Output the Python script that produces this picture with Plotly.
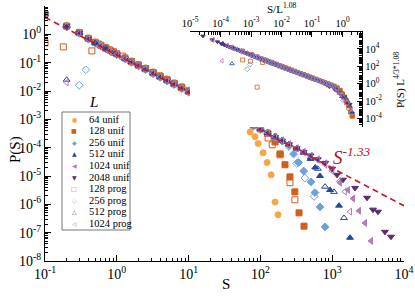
import numpy as np
import plotly.graph_objects as go

# ---------------- data ----------------
S64u = [0.1,0.2,0.3,0.4,0.5,0.6,0.7,0.8,0.9,1.0,1.3,1.6,2.0,2.5,3.2,4.0,5.0,6.3,8.0,10,13,16,20,25,32,40,50,60,72,84,93,109,124,141,160,176]
P64u = [5.6,2.1,1.2,0.76,0.55,0.43,0.35,0.29,0.25,0.215,0.155,0.117,0.087,0.066,0.048,0.036,0.027,0.020,0.0146,0.0109,0.0079,0.0060,0.0045,0.0034,0.0025,0.0018,0.00125,7.0e-4,3.6e-4,2.45e-4,1.4e-4,6.6e-5,3.0e-5,1.1e-5,1.2e-6,4.3e-7]

S128u = [0.1,0.2,0.3,0.4,0.5,0.6,0.7,0.8,0.9,1.0,1.3,1.6,2.0,2.5,3.2,4.0,5.0,6.3,8.0,10,13,16,20,25,32,40,50,63,80,100,126,160,188,220,258,302,345,405]
P128u = [5.3,1.95,1.15,0.72,0.52,0.41,0.33,0.28,0.235,0.205,0.146,0.110,0.083,0.062,0.045,0.0335,0.025,0.0185,0.0135,0.0100,0.0072,0.0054,0.0040,0.0030,0.0022,0.0016,0.0012,8.9e-4,6.4e-4,4.6e-4,3.2e-4,1.6e-4,6.0e-5,2.5e-5,9.3e-6,2.75e-6,5.0e-7,1.7e-7]

S256u = [0.1,0.2,0.3,0.4,0.5,0.6,0.7,0.8,0.9,1.0,1.3,1.6,2.0,2.5,3.2,4.0,5.0,6.3,8.0,10,13,16,20,25,32,40,50,63,80,100,126,160,200,250,290,340,400,507,575,676,795]
P256u = [5.0,1.85,1.08,0.68,0.50,0.39,0.31,0.26,0.225,0.195,0.138,0.104,0.078,0.058,0.042,0.031,0.023,0.0172,0.0125,0.0093,0.0066,0.0050,0.0037,0.0028,0.0020,0.0015,0.00112,8.2e-4,6.0e-4,4.5e-4,3.3e-4,2.4e-4,1.75e-4,1.2e-4,6.0e-5,3.0e-5,1.5e-5,6.2e-6,2.6e-6,8.1e-7,1.6e-7]

S512u = [0.1,0.2,0.3,0.4,0.5,0.6,0.7,0.8,0.9,1.0,1.3,1.6,2.0,2.5,3.2,4.0,5.0,6.3,8.0,10,13,16,20,25,32,40,50,63,80,100,126,160,200,250,320,400,500,580,676,933,1245,1770]
P512u = [5.4,1.9,1.13,0.71,0.51,0.40,0.32,0.27,0.232,0.20,0.141,0.107,0.080,0.060,0.043,0.032,0.0238,0.0176,0.0128,0.0095,0.0068,0.0051,0.0038,0.00285,0.0021,0.00153,0.00114,8.4e-4,6.1e-4,4.6e-4,3.4e-4,2.45e-4,1.8e-4,1.33e-4,9.6e-5,7.0e-5,4.0e-5,2.0e-5,1.0e-5,3.2e-6,9.0e-7,6.6e-8]

S1024u = [0.1,0.2,0.3,0.4,0.5,0.6,0.7,0.8,0.9,1.0,1.3,1.6,2.0,2.5,3.2,4.0,5.0,6.3,8.0,10,13,16,20,25,32,40,50,63,80,100,126,160,200,250,320,400,500,630,800,1000,1280,1660,1950,2360,2860,3470]
P1024u = [5.1,1.88,1.1,0.70,0.50,0.39,0.32,0.265,0.228,0.198,0.140,0.106,0.079,0.059,0.0425,0.0315,0.0235,0.0174,0.0127,0.0094,0.0067,0.0050,0.0038,0.0028,0.00205,0.00151,0.00113,8.3e-4,6.0e-4,4.5e-4,3.35e-4,2.4e-4,1.8e-4,1.33e-4,9.5e-5,7.0e-5,5.2e-5,3.9e-5,2.8e-5,1.7e-5,5.8e-6,3.2e-6,1.6e-6,5.9e-7,2.2e-7,5.1e-8]

S2048u = [0.1,0.2,0.3,0.4,0.5,0.6,0.7,0.8,0.9,1.0,1.3,1.6,2.0,2.5,3.2,4.0,5.0,6.3,8.0,10,13,16,20,25,32,40,50,63,80,100,126,160,200,250,320,400,500,630,800,1000,1167,1413,2080,3055,3700,4345,5430,6590]
P2048u = [5.2,1.92,1.12,0.69,0.49,0.38,0.31,0.262,0.226,0.196,0.139,0.105,0.079,0.059,0.042,0.031,0.0233,0.0173,0.0126,0.0093,0.0066,0.0050,0.0037,0.0028,0.0020,0.0015,0.00111,8.2e-4,5.95e-4,4.45e-4,3.3e-4,2.4e-4,1.78e-4,1.32e-4,9.5e-5,7.1e-5,5.3e-5,3.9e-5,2.9e-5,1.8e-5,1.1e-5,7.4e-6,3.8e-6,1.7e-6,6.5e-7,5.5e-7,1.07e-7,7.2e-8]

S128p = [0.1,0.18,0.3,0.45,0.55,0.7,0.9,1.2,1.6,2.0,2.5,3.2,4.0,5.0,6.3,8.0,10,13,16,20,25,32,40,50,63,80,100,128,146,188,258,302]
P128p = [0.5,0.36,3.7e-4,0.26,0.46,0.33,0.24,0.17,0.108,0.082,0.061,0.044,0.033,0.0245,0.018,0.0131,0.0098,0.0070,0.0052,0.0039,0.0029,0.0021,0.00157,0.00118,8.7e-4,6.3e-4,4.7e-4,2.2e-4,1.26e-4,5.6e-5,5.8e-6,1.45e-6]

S256p = [0.1,0.2,0.3,0.37,0.5,0.6,0.8,1.0,1.3,1.6,2.0,2.5,3.2,4.0,5.0,6.3,8.0,10,13,16,20,25,32,40,50,63,80,100,126,160,200,250,320,417,560]
P256p = [4.8,1.8,0.016,0.056,0.49,0.38,0.26,0.19,0.136,0.102,0.077,0.057,0.041,0.030,0.0225,0.0168,0.0122,0.0091,0.0065,0.0049,0.0036,0.0027,0.00196,0.00145,0.00108,8.0e-4,5.8e-4,4.4e-4,3.2e-4,2.3e-4,1.7e-4,1.1e-4,2.8e-5,8.5e-6,1.9e-6]

S512p = [0.1,0.2,0.3,0.5,0.7,1.0,1.3,1.6,2.0,2.5,3.2,4.0,5.0,6.3,8.0,10,13,16,20,25,32,40,50,63,80,100,126,160,200,250,320,400,500,630,795,1060,1460]
P512p = [5.1,0.025,1.1,0.50,0.32,0.20,0.14,0.106,0.079,0.059,0.042,0.031,0.0233,0.0173,0.0126,0.0094,0.0067,0.0050,0.0037,0.00278,0.00203,0.0015,0.00112,8.3e-4,6.0e-4,4.5e-4,3.3e-4,2.4e-4,1.78e-4,1.3e-4,9.3e-5,6.6e-5,4.5e-5,1.8e-5,4.2e-6,2.75e-6,3.3e-7]

S1024p = [0.1,0.2,0.3,0.4,0.6,0.8,1.0,1.3,1.6,2.0,2.5,3.2,4.0,5.0,6.3,8.0,10,13,16,20,25,32,40,50,63,80,100,126,160,200,250,320,400,500,630,800,1000,1260,1500,1770]
P1024p = [5.0,0.02,1.1,0.69,0.40,0.27,0.198,0.140,0.105,0.079,0.059,0.0425,0.0315,0.0235,0.0174,0.0127,0.0094,0.0067,0.0050,0.0038,0.0028,0.00205,0.00151,0.00113,8.3e-4,6.0e-4,4.5e-4,3.35e-4,2.4e-4,1.8e-4,1.33e-4,9.5e-5,7.0e-5,5.2e-5,3.7e-5,2.5e-5,1.5e-5,6.5e-6,2.8e-6,5.5e-7]

# fitted power law shown as the dashed line
fit_exponent = 1.33
fit_amplitude = 10 ** -0.73
fit_S = [0.1, 1e4]

# tick labels
main_x_ticks = [0.1, 1, 10, 100, 1000, 10000]
main_x_text = ["10<sup>-1</sup>", "10<sup>0</sup>", "10<sup>1</sup>", "10<sup>2</sup>", "10<sup>3</sup>", "10<sup>4</sup>"]
main_y_ticks = [1e-8, 1e-7, 1e-6, 1e-5, 1e-4, 1e-3, 1e-2, 1e-1, 1, 10]
main_y_text = ["10<sup>-8</sup>", "10<sup>-7</sup>", "10<sup>-6</sup>", "10<sup>-5</sup>", "10<sup>-4</sup>",
               "10<sup>-3</sup>", "10<sup>-2</sup>", "10<sup>-1</sup>", "10<sup>0</sup>", "10<sup>1</sup>"]
inset_x_ticks = [1e-5, 1e-4, 1e-3, 1e-2, 1e-1, 1]
inset_x_text = ["10<sup>-5</sup>", "10<sup>-4</sup>", "10<sup>-3</sup>", "10<sup>-2</sup>", "10<sup>-1</sup>", "10<sup>0</sup>"]
inset_y_ticks = [1e-4, 1e-2, 1, 1e2, 1e4]
inset_y_text = ["10<sup>-4</sup>", "10<sup>-2</sup>", "10<sup>0</sup>", "10<sup>2</sup>", "10<sup>4</sup>"]

# ---------------- styling ----------------
C64 = "#F8A640"
C128 = "#D15E1A"
C256 = "#6FA0DA"
C512 = "#22479A"
C1024 = "#B47DB8"
C2048 = "#5A2A6C"
FONT = "Liberation Serif"

series = [
    ("64 unif", S64u, P64u, 64, "circle", C64, "●"),
    ("128 unif", S128u, P128u, 128, "square", C128, "■"),
    ("256 unif", S256u, P256u, 256, "diamond", C256, "◆"),
    ("512 unif", S512u, P512u, 512, "triangle-up", C512, "▲"),
    ("1024 unif", S1024u, P1024u, 1024, "triangle-left", C1024, "◀"),
    ("2048 unif", S2048u, P2048u, 2048, "triangle-down", C2048, "▼"),
    ("128 prog", S128p, P128p, 128, "square-open", C128, "□"),
    ("256 prog", S256p, P256p, 256, "diamond-open", C256, "◇"),
    ("512 prog", S512p, P512p, 512, "triangle-up-open", C512, "△"),
    ("1024 prog", S1024p, P1024p, 1024, "triangle-left-open", C1024, "◁"),
]

fig = go.Figure()

for name, S, P, L, sym, col, glyph in series:
    fig.add_trace(go.Scatter(
        x=S, y=P, mode="markers", name=name, showlegend=False,
        marker=dict(symbol=sym, size=6, color=col, line=dict(width=1, color=col)),
        xaxis="x", yaxis="y"))

Sf = np.array(fit_S)
fig.add_trace(go.Scatter(
    x=Sf, y=fit_amplitude * Sf ** (-fit_exponent), mode="lines", showlegend=False,
    line=dict(color="#C8141E", width=1.6, dash="6px,4px"), xaxis="x", yaxis="y"))

for name, S, P, L, sym, col, glyph in series:
    xs = np.array(S) / L ** 1.08
    ys = np.array(P) * L ** (4 / 3 * 1.08)
    fig.add_trace(go.Scatter(
        x=xs, y=ys, mode="markers", showlegend=False,
        marker=dict(symbol=sym, size=4, color=col, line=dict(width=0.8, color=col)),
        xaxis="x2", yaxis="y2"))

common = dict(type="log", showline=True, linecolor="black", linewidth=1.3,
              ticks="inside", tickcolor="black", tickwidth=1, showgrid=False,
              zeroline=False, automargin=False, tickmode="array")

fig.update_layout(
    width=415, height=297,
    margin=dict(l=45, r=11, t=6, b=36),
    paper_bgcolor="white", plot_bgcolor="white",
    font=dict(family=FONT, color="black"),
    showlegend=False,
    xaxis=dict(**common, range=[-1, 4], domain=[0, 1], ticklen=6,
               tickvals=main_x_ticks, ticktext=main_x_text,
               tickfont=dict(size=14, family=FONT),
               minor=dict(ticks="inside", ticklen=3, dtick="D1", tickcolor="black")),
    yaxis=dict(**common, range=[-8, 1], domain=[0, 1], ticklen=6,
               tickvals=main_y_ticks, ticktext=main_y_text,
               tickfont=dict(size=14, family=FONT),
               minor=dict(ticks="inside", ticklen=3, dtick="D1", tickcolor="black")),
    xaxis2=dict(**common, ticklen=5, range=[-5, 0.64], domain=[0.404, 0.883],
                anchor="y2", side="top",
                tickvals=inset_x_ticks, ticktext=inset_x_text,
                tickfont=dict(size=10.5, family=FONT),
                minor=dict(ticks="inside", ticklen=3, dtick="D1", tickcolor="black")),
    yaxis2=dict(**common, ticklen=5, range=[-5, 5.95], domain=[0.525, 0.898],
                anchor="x2", side="right",
                tickvals=inset_y_ticks, ticktext=inset_y_text,
                tickfont=dict(size=10.5, family=FONT),
                minor=dict(ticks="inside", ticklen=3, dtick="D1", tickcolor="black")),
)

PL, PT, PW, PH = 45, 6, 359, 255
def px(xp): return (xp - PL) / PW
def py(yp): return (PT + PH - yp) / PH

ann = [
    dict(x=3.27, y=-4.3, xref="x", yref="y",
         text="<i>S<sup>-1.33</sup></i>", font=dict(size=19, color="#B8101C", family=FONT)),
    dict(x=px(226), y=py(284), xref="paper", yref="paper",
         text="S", font=dict(size=15, family=FONT)),
    dict(x=px(15), y=py(150), xref="paper", yref="paper", textangle=-90,
         text="P(S)", font=dict(size=15, family=FONT)),
    dict(x=px(282), y=py(8), xref="paper", yref="paper",
         text="S/L<sup>1.08</sup>", font=dict(size=11, family=FONT)),
    dict(x=px(400), y=py(80), xref="paper", yref="paper", textangle=-90,
         text="P(S) L<sup>4/3*1.08</sup>", font=dict(size=11, family=FONT)),
    dict(x=px(93), y=py(102), xref="paper", yref="paper",
         text="<i>L</i>", font=dict(size=15, family=FONT)),
]
for a in ann:
    a.update(showarrow=False, xanchor="center", yanchor="middle")

# hand-made legend (box, symbols and labels)
row0, drow = 119, 11.6
for i, (name, S, P, L, sym, col, glyph) in enumerate(series):
    yy = py(row0 + i * drow)
    ann.append(dict(x=px(74), y=yy, xref="paper", yref="paper", showarrow=False,
                    xanchor="center", yanchor="middle",
                    text=glyph, font=dict(size=6, color=col, family="DejaVu Sans")))
    ann.append(dict(x=px(87), y=yy, xref="paper", yref="paper", showarrow=False,
                    xanchor="left", yanchor="middle",
                    text=name, font=dict(size=10.5, family=FONT)))

fig.update_layout(
    annotations=ann,
    shapes=[dict(type="rect", xref="paper", yref="paper", x0=px(62), x1=px(130),
                 y0=py(230), y1=py(112), line=dict(color="#777777", width=1),
                 fillcolor="white", layer="above")],
)

fig.write_html("out.html", config={"displayModeBar": False},
               post_script="document.body.style.margin='0';")
